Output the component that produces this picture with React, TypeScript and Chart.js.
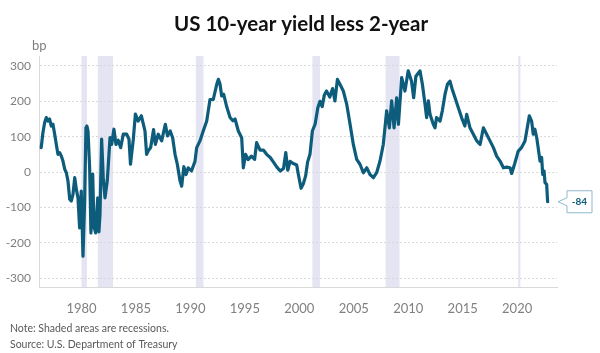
import { useEffect, useRef } from "react";
import { Chart, registerables } from "chart.js";

Chart.register(...registerables);

const title = "US 10-year yield less 2-year";
const unitLabel = "bp";
const noteLines = ["Note: Shaded areas are recessions.", "Source: U.S. Department of Treasury"];
const lastValueLabel = "-84";

const xTickYears = [1980, 1985, 1990, 1995, 2000, 2005, 2010, 2015, 2020];
const yTickValues = [-300, -200, -100, 0, 100, 200, 300];

const recessionStarts = [1980.0, 1981.5, 1990.5, 2001.2, 2007.92, 2020.1];
const recessionEnds = [1980.5, 1982.9, 1991.2, 2001.9, 2009.2, 2020.3];

const years = [
  1976.3, 1976.46, 1976.62, 1976.77, 1976.92, 1977.07, 1977.23, 1977.38, 1977.54, 1977.69,
  1977.84, 1978.0, 1978.15, 1978.3, 1978.46, 1978.61, 1978.76, 1978.92, 1979.06, 1979.22,
  1979.38, 1979.53, 1979.68, 1979.83, 1979.98, 1980.14, 1980.29, 1980.41, 1980.5, 1980.6,
  1980.75, 1980.87, 1981.03, 1981.15, 1981.3, 1981.49, 1981.6, 1981.7, 1981.85, 1982.0,
  1982.16, 1982.37, 1982.62, 1982.77, 1982.98, 1983.17, 1983.37, 1983.6, 1983.84, 1984.15,
  1984.36, 1984.5, 1984.76, 1984.95, 1985.2, 1985.5, 1985.83, 1985.98, 1986.13, 1986.35,
  1986.62, 1986.78, 1987.05, 1987.36, 1987.7, 1987.9, 1988.15, 1988.37, 1988.59, 1988.8,
  1989.05, 1989.2, 1989.4, 1989.6, 1989.8, 1990.1, 1990.42, 1990.58, 1990.88, 1991.18,
  1991.5, 1991.8, 1992.1, 1992.42, 1992.57, 1992.72, 1992.87, 1993.05, 1993.33, 1993.64,
  1993.9, 1994.1, 1994.4, 1994.71, 1994.86, 1995.07, 1995.3, 1995.6, 1995.9, 1996.08,
  1996.4, 1996.7, 1997.0, 1997.33, 1997.63, 1997.94, 1998.25, 1998.55, 1998.76, 1998.94,
  1999.15, 1999.45, 1999.76, 1999.9, 2000.16, 2000.37, 2000.58, 2000.76, 2000.98, 2001.2,
  2001.45, 2001.7, 2001.9, 2002.1, 2002.3, 2002.5, 2002.8, 2003.06, 2003.27, 2003.5,
  2003.73, 2004.04, 2004.35, 2004.66, 2004.96, 2005.27, 2005.57, 2005.88, 2006.19, 2006.49,
  2006.8, 2007.1, 2007.41, 2007.71, 2008.02, 2008.27, 2008.48, 2008.7, 2008.94, 2009.1,
  2009.4, 2009.7, 2010.0, 2010.3, 2010.5, 2010.7, 2010.86, 2011.08, 2011.3, 2011.54,
  2011.69, 2011.85, 2012.0, 2012.3, 2012.46, 2012.6, 2012.92, 2013.13, 2013.38, 2013.6,
  2013.83, 2014.04, 2014.3, 2014.6, 2014.9, 2015.2, 2015.37, 2015.67, 2015.98, 2016.29,
  2016.6, 2016.9, 2017.2, 2017.51, 2017.82, 2018.12, 2018.43, 2018.74, 2019.04, 2019.35,
  2019.5, 2019.78, 2020.1, 2020.4, 2020.72, 2020.93, 2021.12, 2021.33, 2021.48, 2021.63,
  2021.8, 2021.93, 2022.1, 2022.25, 2022.35, 2022.47, 2022.56, 2022.71, 2022.8,
];

const spreadBp = [
  69, 111, 140, 154, 144, 150, 130, 135, 107, 78,
  50, 55, 45, 31, 8, -2, -25, -77, -82, -63,
  -16, -49, -73, -158, -54, -238, -82, 125, 130, 116,
  12, -172, -6, -155, -172, -73, -169, -120, 93, -16,
  -73, -25, 97, 78, 121, 78, 90, 69, 107, 107,
  93, 22, 93, 164, 144, 159, 116, 50, 60, 69,
  120, 78, 107, 88, 135, 102, 116, 97, 50, 22,
  -25, -40, 15, -7, 12, 3, 30, 69, 88, 116,
  144, 205, 205, 248, 262, 249, 215, 220, 185, 154,
  145, 150, 116, 97, 12, 50, 35, 45, 36, 83,
  62, 62, 50, 41, 28, 14, 3, 10, 55, 5,
  30, 24, 20, -5, -46, -33, -11, 28, 50, 116,
  135, 182, 200, 185, 218, 229, 212, 236, 201, 262,
  248, 229, 192, 135, 78, 36, 22, -2, 12, -7,
  -16, -2, 31, 78, 173, 125, 201, 125, 210, 135,
  267, 229, 286, 257, 210, 270, 277, 286, 248, 192,
  154, 201, 163, 135, 125, 154, 144, 173, 220, 248,
  257, 234, 210, 182, 154, 130, 163, 125, 107, 88,
  78, 125, 107, 88, 69, 45, 31, 12, 14, 12,
  -4, 24, 59, 69, 88, 125, 159, 144, 107, 121,
  97, 69, 31, 41, -7, 3, -30, -35, -84,
];

const FONT = "Lato, 'Open Sans', sans-serif";
const LINE_COLOR = "#0d5c7b";
const BAND_COLOR = "#e4e4f2";
const GRID_COLOR = "#d9d9d9";
const TICK_COLOR = "#808080";

export default function App() {
  const ref = useRef<HTMLCanvasElement | null>(null);

  useEffect(() => {
    document.body.style.margin = "0";
    const canvas = ref.current;
    if (!canvas) return;

    const decor = {
      id: "decor",
      beforeDraw(chart: any) {
        const { ctx, chartArea, scales } = chart;
        const xs = scales.x;
        ctx.save();
        ctx.fillStyle = BAND_COLOR;
        for (let i = 0; i < recessionStarts.length; i++) {
          const a = xs.getPixelForValue(recessionStarts[i]);
          const b = xs.getPixelForValue(recessionEnds[i]);
          ctx.fillRect(a, chartArea.top, Math.max(b - a, 1.5), chartArea.bottom - chartArea.top);
        }
        ctx.restore();
      },
      afterDraw(chart: any) {
        const { ctx, chartArea, scales } = chart;
        ctx.save();
        // title
        ctx.fillStyle = "#111111";
        ctx.font = `bold 20.5px ${FONT}`;
        ctx.textAlign = "center";
        ctx.textBaseline = "middle";
        ctx.fillText(title, 301, 24);
        // unit
        ctx.fillStyle = TICK_COLOR;
        ctx.font = `13px ${FONT}`;
        ctx.textAlign = "left";
        ctx.fillText(unitLabel, 32, 46);
        // notes
        ctx.fillStyle = "#595959";
        ctx.font = `10.5px ${FONT}`;
        ctx.fillText(noteLines[0], 10, 329);
        ctx.fillText(noteLines[1], 10, 345);
        // callout
        const lastIdx = years.length - 1;
        const py = scales.y.getPixelForValue(spreadBp[lastIdx]);
        const tipX = chartArea.right + 1;
        const bx = tipX + 9;
        const bw = 25;
        const bh = 22;
        const by = py - bh / 2;
        ctx.beginPath();
        ctx.moveTo(bx, by);
        ctx.lineTo(bx + bw, by);
        ctx.lineTo(bx + bw, by + bh);
        ctx.lineTo(bx, by + bh);
        ctx.lineTo(bx, py + 4);
        ctx.lineTo(tipX, py);
        ctx.lineTo(bx, py - 4);
        ctx.closePath();
        ctx.fillStyle = "#ffffff";
        ctx.fill();
        ctx.strokeStyle = "#8fb9cc";
        ctx.lineWidth = 1;
        ctx.stroke();
        ctx.fillStyle = LINE_COLOR;
        ctx.font = `bold 10px ${FONT}`;
        ctx.textAlign = "center";
        ctx.fillText(lastValueLabel, bx + bw / 2, py + 0.5);
        ctx.restore();
      },
    };

    const chart = new Chart(canvas, {
      type: "line",
      data: {
        datasets: [
          {
            data: years.map((x, i) => ({ x, y: spreadBp[i] })),
            borderColor: LINE_COLOR,
            borderWidth: 3.2,
            borderJoinStyle: "round",
            borderCapStyle: "round",
            pointRadius: 0,
            tension: 0,
            fill: false,
          },
        ],
      },
      options: {
        animation: false,
        responsive: false,
        maintainAspectRatio: false,
        layout: { padding: { top: 56, right: 43, bottom: 40, left: 0 } },
        plugins: { legend: { display: false }, tooltip: { enabled: false }, title: { display: false } },
        scales: {
          x: {
            type: "linear",
            min: 1976.1,
            max: 2023.66,
            afterBuildTicks: (s: any) => {
              s.ticks = xTickYears.map((v) => ({ value: v }));
            },
            afterFit: (s: any) => {
              s.height = 26;
            },
            grid: { display: false },
            border: { display: true, color: GRID_COLOR, width: 1 },
            ticks: {
              autoSkip: false,
              maxRotation: 0,
              padding: 6,
              color: TICK_COLOR,
              font: { family: FONT, size: 13 },
              callback: (v: any) => String(v),
            },
          },
          y: {
            type: "linear",
            min: -325,
            max: 328,
            afterBuildTicks: (s: any) => {
              s.ticks = yTickValues.map((v) => ({ value: v }));
            },
            afterFit: (s: any) => {
              s.width = 39;
            },
            grid: { color: GRID_COLOR, drawTicks: false, lineWidth: 1 },
            border: { display: true, color: GRID_COLOR, width: 1, dash: [2, 2] },
            ticks: {
              padding: 8,
              color: TICK_COLOR,
              font: { family: FONT, size: 12 },
              callback: (v: any) => String(v),
            },
          },
        },
      },
      plugins: [decor],
    });

    return () => chart.destroy();
  }, []);

  return (
    <div style={{ width: 600, height: 353, background: "#ffffff" }}>
      <canvas ref={ref} width={600} height={353} style={{ display: "block" }} />
    </div>
  );
}
